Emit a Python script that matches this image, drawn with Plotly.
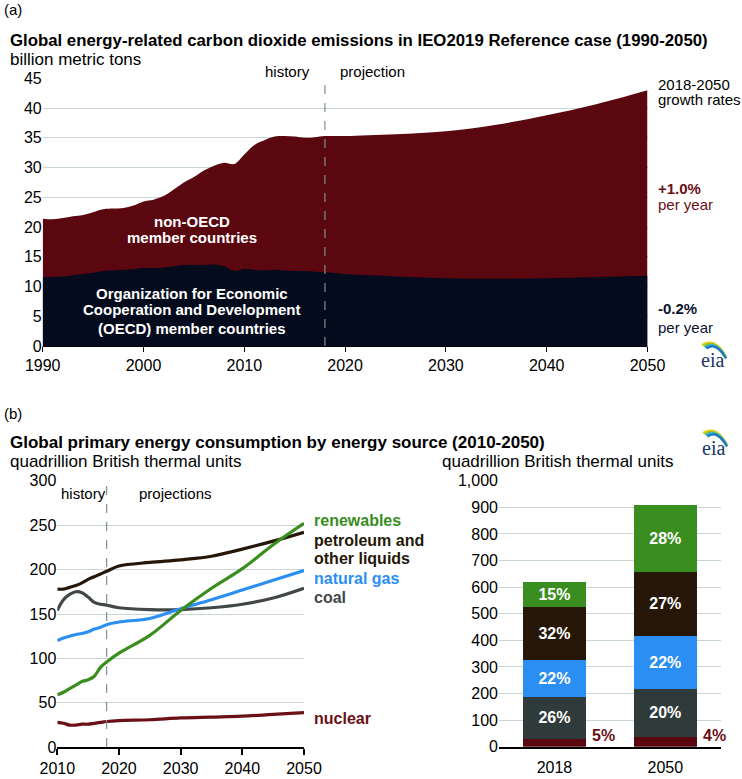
import plotly.graph_objects as go

W, H = 742, 779

# ---------------- Panel (a) data: billion metric tons ----------------
years_a = [1990, 1991, 1992, 1993, 1994, 1995, 1996, 1997, 1998, 1999,
           2000, 2001, 2002, 2003, 2004, 2005, 2006, 2007, 2008, 2009,
           2010, 2011, 2012, 2013, 2014, 2015, 2016, 2017, 2018,
           2020, 2025, 2030, 2035, 2040, 2045, 2050]
world_total = [21.4, 21.3, 21.5, 21.8, 22.0, 22.5, 23.0, 23.1, 23.2, 23.6,
               24.3, 24.6, 25.2, 26.3, 27.5, 28.4, 29.5, 30.3, 30.8, 30.6,
               32.2, 33.8, 34.6, 35.2, 35.3, 35.2, 35.0, 35.1, 35.3,
               35.3, 35.6, 36.1, 37.2, 38.8, 40.7, 43.0]
oecd = [11.6, 11.6, 11.7, 11.9, 12.1, 12.3, 12.6, 12.7, 12.8, 12.9,
        13.1, 13.1, 13.2, 13.4, 13.6, 13.6, 13.6, 13.7, 13.4, 12.6,
        13.0, 12.8, 12.7, 12.8, 12.7, 12.6, 12.6, 12.5, 12.4,
        12.1, 11.7, 11.4, 11.3, 11.4, 11.6, 11.8]

# ---------------- Panel (b) left data: quadrillion Btu ----------------
years_b = [2010, 2011, 2012, 2013, 2014, 2015, 2016, 2017, 2018,
           2020, 2025, 2030, 2035, 2040, 2045, 2050]
renewables = [59, 62, 66, 70, 74, 76, 80, 90, 96, 106, 126, 154, 179, 201, 228, 252]
petroleum = [178, 178, 180, 182, 185, 189, 192, 195, 198, 204, 208, 211, 215, 223, 232, 242]
natural_gas = [120, 123, 125, 127, 128, 130, 133, 135, 138, 141, 145, 156, 166, 177, 188, 199]
coal = [154, 166, 172, 175, 174, 169, 163, 161, 160, 157, 155, 155, 157, 161, 168, 179]
nuclear = [28, 27, 25, 25, 26, 26, 27, 28, 29, 30, 31, 33, 34, 35, 37, 39]

# ---------------- Panel (b) right data: stacked bars ----------------
bar_years = ["2018", "2050"]
bar_nuclear = [29, 38]
bar_coal = [159, 179]
bar_gas = [138, 198]
bar_petroleum = [198, 243]
bar_renewables = [94, 251]
pct_nuclear = ["5%", "4%"]
pct_coal = ["26%", "20%"]
pct_gas = ["22%", "22%"]
pct_petroleum = ["32%", "27%"]
pct_renewables = ["15%", "28%"]

ticks_a_x = [1990, 2000, 2010, 2020, 2030, 2040, 2050]
ticks_a_y = [0, 5, 10, 15, 20, 25, 30, 35, 40, 45]
ticks_b_x = [2010, 2020, 2030, 2040, 2050]
ticks_b_y = [0, 50, 100, 150, 200, 250, 300]
ticks_c_y = [0, 100, 200, 300, 400, 500, 600, 700, 800, 900, 1000]
ticks_c_lbl = ["0", "100", "200", "300", "400", "500", "600", "700", "800", "900", "1,000"]

# ---------------- colours ----------------
C_NON = "#5b0710"
C_OECD = "#040b1c"
C_GRID = "#c9d4d6"
C_DASH = "#7f8f92"
C_REN = "#3a8d1f"
C_PET = "#261709"
C_GAS = "#2b8ef2"
C_COAL = "#424848"
C_NUC = "#6a1016"
C_BCOAL = "#2f3b3b"
C_BNUC = "#5a0710"

FONT = "Liberation Sans, Arial, sans-serif"


def px(x):
    return x / W


def py(y):
    return 1 - y / H


fig = go.Figure()

# Panel (a): areas (total drawn first, OECD over it)
fig.add_trace(go.Scatter(x=years_a, y=world_total, mode="lines", line=dict(width=0, color=C_NON),
                         fill="tozeroy", fillcolor=C_NON, xaxis="x", yaxis="y",
                         line_shape="spline", hoverinfo="skip", showlegend=False))
fig.add_trace(go.Scatter(x=years_a, y=oecd, mode="lines", line=dict(width=0, color=C_OECD),
                         fill="tozeroy", fillcolor=C_OECD, xaxis="x", yaxis="y",
                         line_shape="spline", hoverinfo="skip", showlegend=False))

# Panel (b) left: lines
for vals, col in [(nuclear, C_NUC), (coal, C_COAL), (natural_gas, C_GAS),
                  (petroleum, C_PET), (renewables, C_REN)]:
    fig.add_trace(go.Scatter(x=years_b, y=vals, mode="lines", line=dict(width=3.2, color=col),
                             line_shape="spline", xaxis="x2", yaxis="y2", showlegend=False))

# Panel (b) right: stacked bars
bar_pos = list(range(len(bar_years)))
for vals, col, txt in [(bar_nuclear, C_BNUC, None), (bar_coal, C_BCOAL, pct_coal),
                       (bar_gas, C_GAS, pct_gas), (bar_petroleum, C_PET, pct_petroleum),
                       (bar_renewables, C_REN, pct_renewables)]:
    kw = {}
    if txt:
        kw = dict(text=["<b>%s</b>" % t for t in txt], textposition="inside",
                  insidetextanchor="middle", textangle=0,
                  textfont=dict(color="white", size=16, family=FONT))
    fig.add_trace(go.Bar(x=bar_pos, y=vals, width=0.564,
                         marker=dict(color=col, line=dict(width=0)),
                         xaxis="x3", yaxis="y3", showlegend=False, **kw))

tickfont = dict(family=FONT, size=16, color="#000000")

fig.update_layout(
    width=W, height=H, margin=dict(l=0, r=0, t=0, b=0, autoexpand=False),
    paper_bgcolor="white", plot_bgcolor="rgba(0,0,0,0)",
    barmode="stack",
    showlegend=False,
    xaxis=dict(domain=[px(42.7), px(647.5)], range=[1990, 2050], tickvals=ticks_a_x,
               showgrid=False, zeroline=False, showline=False, ticks="outside",
               ticklen=5, tickcolor="#000", tickfont=tickfont, anchor="y", automargin=False),
    yaxis=dict(domain=[py(346), py(78.3)], range=[0, 45], tickvals=ticks_a_y,
               showgrid=True, gridcolor=C_GRID, gridwidth=1, zeroline=False,
               showline=False, ticks="", tickfont=tickfont, anchor="x", automargin=False),
    xaxis2=dict(domain=[px(57.3), px(304)], range=[2010, 2050], tickvals=ticks_b_x,
                showgrid=False, zeroline=False, showline=True, linecolor="#000", linewidth=1.5,
                ticks="outside", ticklen=6, tickcolor="#000", tickwidth=1.5,
                tickfont=tickfont, anchor="y2", automargin=False),
    yaxis2=dict(domain=[py(747.3), py(480.7)], range=[0, 300], tickvals=ticks_b_y,
                showgrid=True, gridcolor=C_GRID, zeroline=False, showline=False,
                ticks="", tickfont=tickfont, anchor="x2", automargin=False),
    xaxis3=dict(domain=[px(499), px(720.7)], range=[-0.5, 1.5], tickvals=bar_pos,
                ticktext=bar_years, showgrid=False, zeroline=False, showline=True,
                linecolor="#000", linewidth=1.5, ticks="outside", ticklen=5,
                tickcolor="rgba(0,0,0,0)", tickfont=tickfont,
                anchor="y3", automargin=False),
    yaxis3=dict(domain=[py(746.7), py(480.7)], range=[0, 1000], tickvals=ticks_c_y,
                ticktext=ticks_c_lbl, showgrid=True, gridcolor=C_GRID, zeroline=False,
                showline=False, ticks="", tickfont=tickfont, anchor="x3", automargin=False),
)

shapes = []
# dashed history/projection lines
shapes.append(dict(type="line", xref="x", yref="paper", x0=2018, x1=2018, y0=py(346), y1=py(78),
                   line=dict(color=C_DASH, width=1.2, dash="dash"), layer="above"))
shapes.append(dict(type="line", xref="x2", yref="paper", x0=2018, x1=2018, y0=py(747), y1=py(480),
                   line=dict(color=C_DASH, width=1.2, dash="dash"), layer="above"))
# panel (a) bottom axis line
shapes.append(dict(type="line", xref="paper", yref="paper", x0=px(42.7), x1=px(647.5),
                   y0=py(346.5), y1=py(346.5), line=dict(color="#000", width=1)))


def eia_logo(cx, cy, s=1.0):
    """eia logo: coloured arcs above the word"""
    out = []
    cols = ["#f2d200", "#8cc63f", "#27aae1", "#1c75bc"]
    for i, c in enumerate(cols):
        x0 = cx - 10 * s + i * 1.5 * s
        y0 = cy - 8 * s + i * 1.2 * s
        x1 = cx + 14 * s
        y1 = cy + 4 * s + i * 0.5 * s
        xc = cx + 4 * s
        yc = cy - 16 * s + i * 1.5 * s
        path = "M {},{} Q {},{} {},{}".format(px(x0), py(y0), px(xc), py(yc), px(x1), py(y1))
        out.append(dict(type="path", xref="paper", yref="paper", path=path,
                        line=dict(color=c, width=2.2)))
    return out


shapes += eia_logo(712, 353)
shapes += eia_logo(713, 441)
fig.update_layout(shapes=shapes)

ann = []


def T(x, y, text, size=16, color="#000", bold=False, xanchor="left", family=FONT):
    ann.append(dict(x=px(x), y=py(y), xref="paper", yref="paper",
                    text=("<b>%s</b>" % text) if bold else text,
                    showarrow=False, xanchor=xanchor, yanchor="middle",
                    font=dict(size=size, color=color, family=family)))


# Panel (a) texts
T(2, 10, "(a)", size=15)
T(8, 41, "Global energy-related carbon dioxide emissions in IEO2019 Reference case (1990-2050)",
  size=16.8, bold=True)
T(8, 59, "billion metric tons", size=17)
T(287, 71, "history", size=15, xanchor="center")
T(338, 71, "projection", size=15)
T(656, 84, "2018-2050", size=15)
T(656, 100, "growth rates", size=15)
T(656, 188, "+1.0%", size=15, bold=True, color=C_NUC)
T(656, 205, "per year", size=15, color=C_NUC)
T(656, 309, "-0.2%", size=15, bold=True, color="#0b1530")
T(656, 327, "per year", size=15, color="#0b1530")
T(192, 221, "non-OECD", size=15, bold=True, color="#ffffff", xanchor="center")
T(192, 238, "member countries", size=15, bold=True, color="#ffffff", xanchor="center")
T(192, 293, "Organization for Economic", size=15, bold=True, color="#ffffff", xanchor="center")
T(192, 310, "Cooperation and Development", size=15, bold=True, color="#ffffff", xanchor="center")
T(192, 328, "(OECD) member countries", size=15, bold=True, color="#ffffff", xanchor="center")

# Panel (b) texts
T(2, 413, "(b)", size=15)
T(8, 442, "Global primary energy consumption by energy source (2010-2050)", size=17, bold=True)
T(8, 461, "quadrillion British thermal units", size=17)
T(440, 461, "quadrillion British thermal units", size=17)
T(59, 493, "history", size=15)
T(137, 493, "projections", size=15)
T(312, 520, "renewables", size=16, bold=True, color=C_REN)
T(312, 540, "petroleum and", size=16, bold=True, color=C_PET)
T(312, 558, "other liquids", size=16, bold=True, color=C_PET)
T(312, 578, "natural gas", size=16, bold=True, color=C_GAS)
T(312, 597, "coal", size=16, bold=True, color=C_COAL)
T(312, 718, "nuclear", size=16, bold=True, color=C_NUC)

# eia word marks
T(712, 360, "eia", size=20, color="#1a3668", xanchor="center", family="Liberation Serif, DejaVu Serif, serif")
T(713, 448, "eia", size=20, color="#1a3668", xanchor="center", family="Liberation Serif, DejaVu Serif, serif")

# nuclear share labels outside bars
for pos, lab in zip(bar_pos, pct_nuclear):
    ann.append(dict(x=pos, y=0, xref="x3", yref="y3", text="<b>%s</b>" % lab, showarrow=False,
                    xanchor="left", yanchor="bottom", xshift=36, yshift=1,
                    font=dict(size=16, color=C_NUC, family=FONT)))

fig.update_layout(annotations=ann)
fig.write_html("out.html", config={"displayModeBar": False},
               post_script="document.body.style.margin='0';document.body.style.padding='0';"
                           "document.body.style.overflow='hidden';")
